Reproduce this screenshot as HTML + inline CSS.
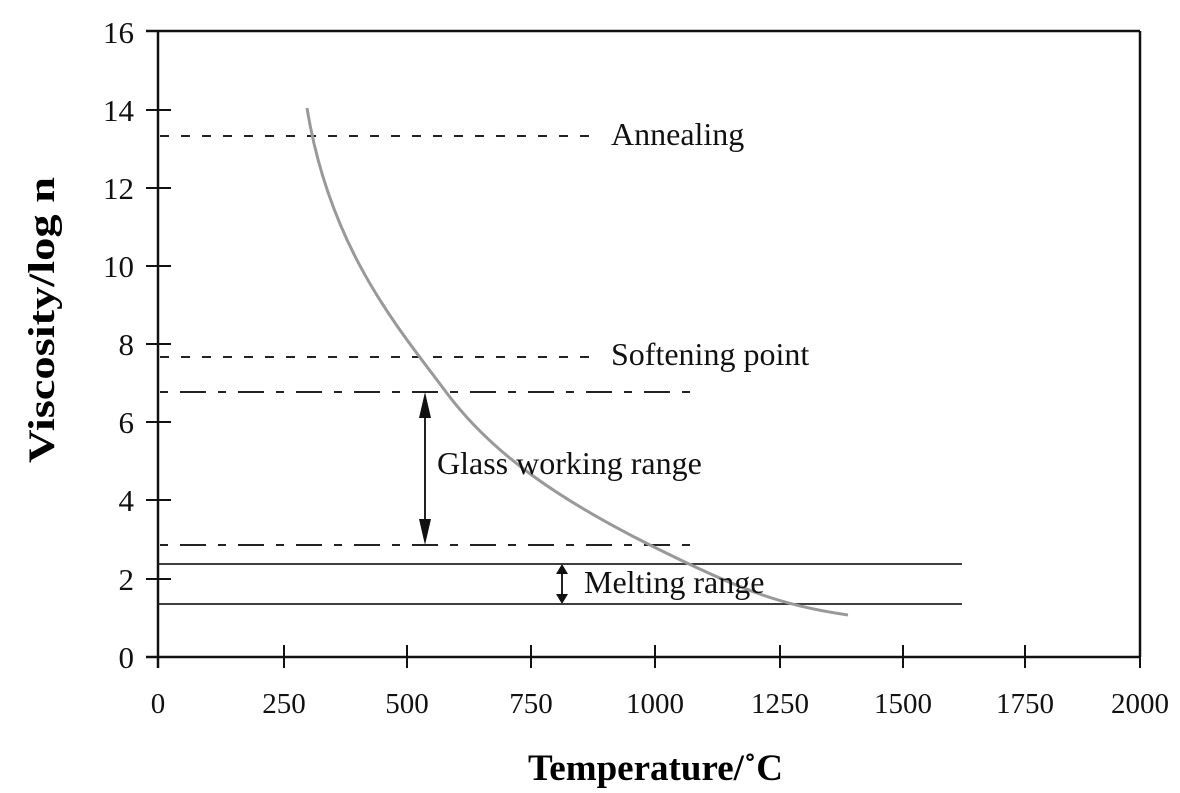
<!DOCTYPE html>
<html><head><style>
body{margin:0;background:#fff;}
svg{display:block;font-family:"Liberation Serif",serif;}
</style></head><body>
<svg width="1180" height="793" viewBox="0 0 1180 793">
<g stroke="#111" stroke-width="2.5" fill="none">
<line x1="158" y1="31" x2="158" y2="668"/>
<line x1="146" y1="657" x2="1140" y2="657"/>
<line x1="146" y1="31" x2="1140" y2="31"/>
<line x1="1140" y1="31" x2="1140" y2="657"/>
</g>
<g stroke="#111" stroke-width="2">
<line x1="284" y1="645" x2="284" y2="668"/><line x1="407" y1="645" x2="407" y2="668"/>
<line x1="531" y1="645" x2="531" y2="668"/><line x1="655" y1="645" x2="655" y2="668"/>
<line x1="780" y1="645" x2="780" y2="668"/><line x1="903" y1="645" x2="903" y2="668"/>
<line x1="1025" y1="645" x2="1025" y2="668"/><line x1="1140" y1="645" x2="1140" y2="668"/>
<line x1="146" y1="110" x2="171" y2="110"/><line x1="146" y1="188" x2="171" y2="188"/>
<line x1="146" y1="266" x2="171" y2="266"/><line x1="146" y1="344" x2="171" y2="344"/>
<line x1="146" y1="422" x2="171" y2="422"/><line x1="146" y1="500" x2="171" y2="500"/>
<line x1="146" y1="579" x2="171" y2="579"/>
</g>
<g font-size="31" fill="#111" text-anchor="end">
<text x="134" y="43">16</text><text x="134" y="121">14</text><text x="134" y="199">12</text>
<text x="134" y="277">10</text><text x="134" y="355">8</text><text x="134" y="433">6</text>
<text x="134" y="511">4</text><text x="134" y="590">2</text><text x="134" y="668">0</text>
</g>
<g font-size="29" fill="#111" text-anchor="middle">
<text x="158" y="713">0</text><text x="284" y="713">250</text><text x="407" y="713">500</text>
<text x="531" y="713">750</text><text x="655" y="713">1000</text><text x="780" y="713">1250</text>
<text x="903" y="713">1500</text><text x="1025" y="713">1750</text><text x="1140" y="713">2000</text>
</g>
<text x="528" y="780" font-size="37" font-weight="bold" textLength="255" lengthAdjust="spacingAndGlyphs">Temperature/˚C</text>
<text transform="translate(54,463) rotate(-90)" font-size="37" font-weight="bold" textLength="286" lengthAdjust="spacingAndGlyphs">Viscosity/log n</text>
<g stroke="#222" stroke-width="2" fill="none">
<line x1="160" y1="136" x2="600" y2="136" stroke-dasharray="9,12"/>
<line x1="160" y1="357" x2="596" y2="357" stroke-dasharray="9,12"/>
<line x1="160" y1="392" x2="698" y2="392" stroke-dasharray="8,12,26,12"/>
<line x1="160" y1="545" x2="696" y2="545" stroke-dasharray="8,12,26,12"/>
<line x1="158" y1="564" x2="962" y2="564" stroke-width="1.8"/>
<line x1="158" y1="604" x2="962" y2="604" stroke-width="1.8"/>
<line x1="425" y1="405" x2="425" y2="532"/>
<line x1="562" y1="572" x2="562" y2="596"/>
</g>
<g fill="#111">
<polygon points="425,392 419,418 431,418"/>
<polygon points="425,545 419,519 431,519"/>
<polygon points="562,564 556,574 568,574"/>
<polygon points="562,604 556,594 568,594"/>
</g>
<path fill="none" stroke="#999" stroke-width="3" d="M307,108 C330,250 400,330 446,392 S 560,500 650,545 S 780,605 848,615"/>
<g font-size="32" fill="#111">
<text x="611" y="145">Annealing</text>
<text x="611" y="365">Softening point</text>
<text x="437" y="474">Glass working range</text>
<text x="584" y="593">Melting range</text>
</g>
</svg>
</body></html>
